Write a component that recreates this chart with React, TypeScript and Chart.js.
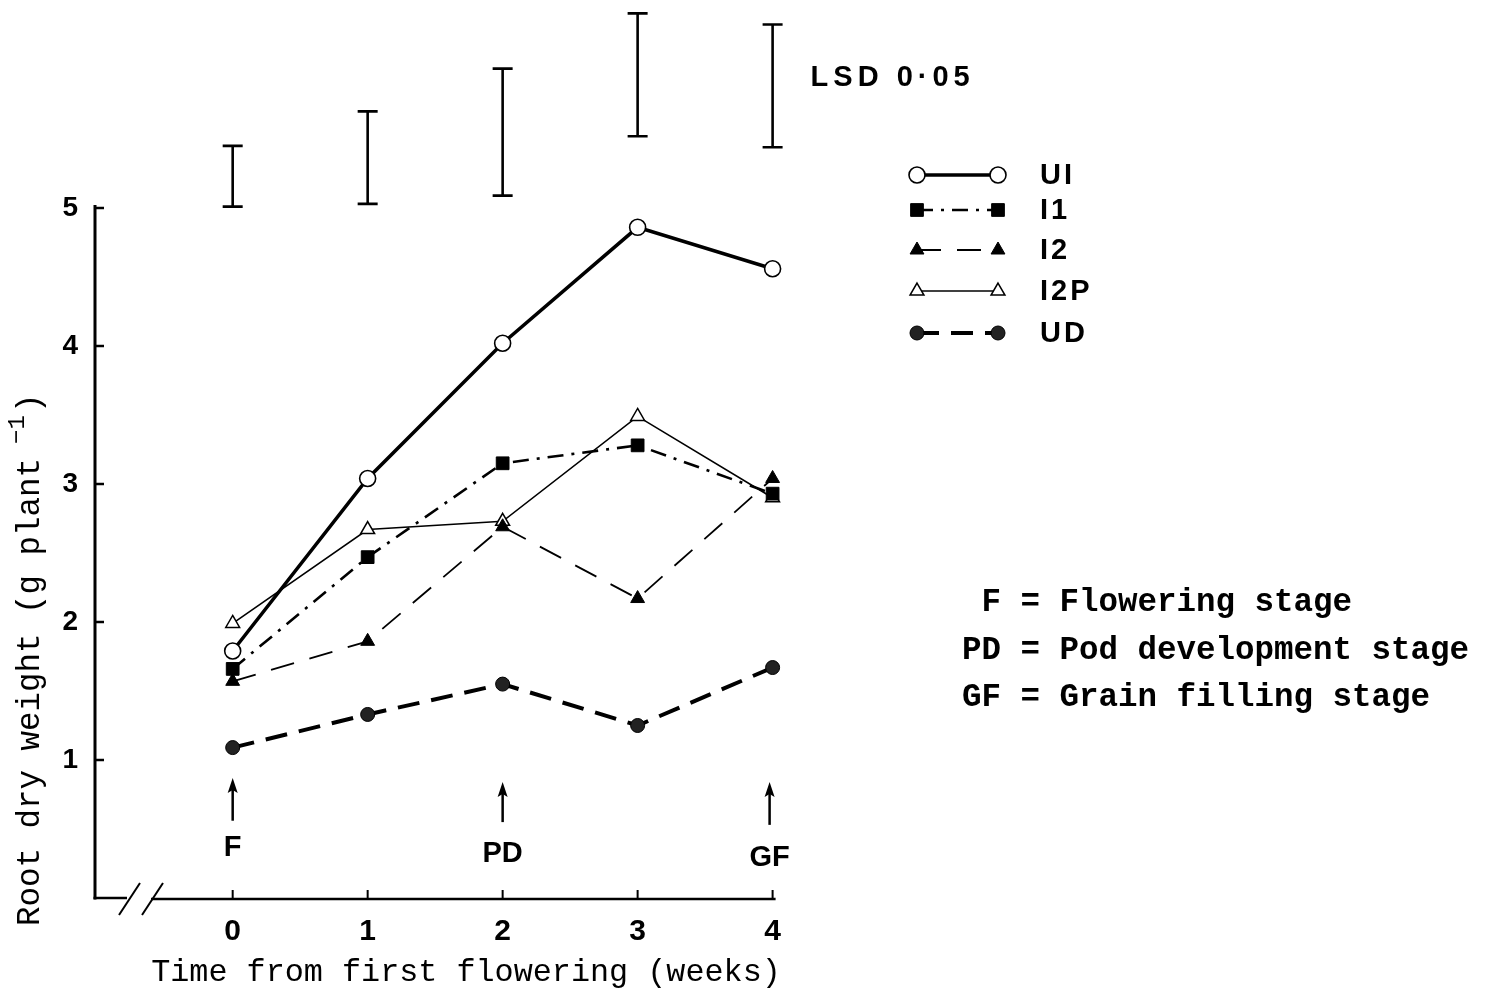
import React, { useEffect, useRef } from 'react';
import { Chart, registerables } from 'chart.js';

Chart.register(...registerables);

// ---- data ----
const weeks = [0, 1, 2, 3, 4];
const seriesNames = ['UI', 'I1', 'I2', 'I2P', 'UD'];
const seriesUI = [1.79, 3.04, 4.02, 4.86, 4.56];
const seriesI1 = [1.66, 2.47, 3.15, 3.28, 2.93];
const seriesI2 = [1.57, 1.86, 2.69, 2.17, 3.04];
const seriesI2P = [1.99, 2.67, 2.73, 3.49, 2.9];
const seriesUD = [1.09, 1.33, 1.55, 1.25, 1.67];
const lsdLow = [5.01, 5.03, 5.09, 5.52, 5.44];
const lsdHigh = [5.45, 5.7, 6.01, 6.41, 6.33];
const xTickValues = [0, 1, 2, 3, 4];
const yTickValues = [1, 2, 3, 4, 5];
const stageWeeks = [0, 2, 4];
const stageLabels = ['F', 'PD', 'GF'];
const stageNotes = [' F = Flowering stage', 'PD = Pod development stage', 'GF = Grain filling stage'];
const lsdLabel = 'LSD 0·05';
const xTitle = 'Time from first flowering (weeks)';
const yTitleMain = 'Root dry weight (g plant';
const yTitleSup = '−1';

const SANS = "'Liberation Sans', Arial, sans-serif";
const MONO = "'Liberation Mono', 'Courier New', monospace";

type Style = {
  width: number;
  dash: number[];
  shape: 'circle' | 'rect' | 'triangle';
  radius: number;
  fill: string;
  stroke: number;
};

const styles: Style[] = [
  { width: 3.5, dash: [], shape: 'circle', radius: 8, fill: '#fff', stroke: 1.6 },
  { width: 2.6, dash: [16, 8, 3, 8], shape: 'rect', radius: 9, fill: '#000', stroke: 1 },
  { width: 1.8, dash: [24, 16], shape: 'triangle', radius: 8, fill: '#000', stroke: 1 },
  { width: 1.6, dash: [], shape: 'triangle', radius: 8, fill: '#fff', stroke: 1.5 },
  { width: 4, dash: [22, 12], shape: 'circle', radius: 7, fill: '#222', stroke: 1 },
];

function drawMarker(ctx: CanvasRenderingContext2D, s: Style, x: number, y: number) {
  ctx.save();
  ctx.setLineDash([]);
  ctx.fillStyle = s.fill;
  ctx.strokeStyle = '#000';
  ctx.lineWidth = s.stroke;
  ctx.beginPath();
  if (s.shape === 'circle') {
    ctx.arc(x, y, s.radius, 0, Math.PI * 2);
  } else if (s.shape === 'rect') {
    const h = s.radius * Math.SQRT1_2;
    ctx.rect(x - h, y - h, 2 * h, 2 * h);
  } else {
    const r = s.radius;
    ctx.moveTo(x, y - r);
    ctx.lineTo(x + r * 0.866, y + r * 0.5);
    ctx.lineTo(x - r * 0.866, y + r * 0.5);
    ctx.closePath();
  }
  ctx.fill();
  ctx.stroke();
  ctx.restore();
}

const decor = {
  id: 'decor',
  afterDraw(chart: any) {
    const { ctx, chartArea } = chart;
    const xs = chart.scales.x;
    const ys = chart.scales.y;
    const left = chartArea.left;
    const bottom = chartArea.bottom;
    ctx.save();
    ctx.strokeStyle = '#000';
    ctx.fillStyle = '#000';
    ctx.lineCap = 'butt';

    // y axis
    ctx.lineWidth = 3;
    ctx.beginPath();
    ctx.moveTo(left, bottom + 1.5);
    ctx.lineTo(left, ys.getPixelForValue(5) - 3);
    ctx.stroke();
    ctx.lineWidth = 2.5;
    yTickValues.forEach((v) => {
      const py = ys.getPixelForValue(v);
      ctx.beginPath();
      ctx.moveTo(left, py);
      ctx.lineTo(left + 9, py);
      ctx.stroke();
    });

    // x axis with break
    ctx.lineWidth = 2.5;
    ctx.beginPath();
    ctx.moveTo(left - 1.5, bottom);
    ctx.lineTo(left + 32, bottom);
    ctx.stroke();
    ctx.beginPath();
    ctx.moveTo(left + 56, bottom + 1);
    ctx.lineTo(xs.getPixelForValue(4) + 3, bottom + 1);
    ctx.stroke();
    ctx.lineWidth = 2;
    [[left + 24, left + 45], [left + 47, left + 68]].forEach(([a, b]) => {
      ctx.beginPath();
      ctx.moveTo(a, bottom + 17);
      ctx.lineTo(b, bottom - 15);
      ctx.stroke();
    });
    ctx.lineWidth = 2;
    xTickValues.forEach((v) => {
      const px = xs.getPixelForValue(v);
      ctx.beginPath();
      ctx.moveTo(px, bottom + 1);
      ctx.lineTo(px, bottom - 8);
      ctx.stroke();
    });

    // LSD bars
    ctx.lineWidth = 2.6;
    weeks.forEach((w, i) => {
      const px = xs.getPixelForValue(w);
      const top = ys.getPixelForValue(lsdHigh[i]);
      const bot = ys.getPixelForValue(lsdLow[i]);
      ctx.beginPath();
      ctx.moveTo(px, top);
      ctx.lineTo(px, bot);
      ctx.moveTo(px - 10, top);
      ctx.lineTo(px + 10, top);
      ctx.moveTo(px - 10, bot);
      ctx.lineTo(px + 10, bot);
      ctx.stroke();
    });
    ctx.font = `bold 29px ${SANS}`;
    (ctx as any).letterSpacing = '5px';
    ctx.textAlign = 'left';
    ctx.textBaseline = 'middle';
    ctx.fillText(lsdLabel, xs.getPixelForValue(4) + 38, ys.getPixelForValue(5.94));
    (ctx as any).letterSpacing = '0px';

    // stage arrows and labels
    const tipV = [0.87, 0.84, 0.84];
    const baseV = [0.56, 0.55, 0.53];
    const labV = [0.36, 0.32, 0.29];
    ctx.font = `bold 29px ${SANS}`;
    ctx.textAlign = 'center';
    stageWeeks.forEach((w, i) => {
      const px = xs.getPixelForValue(w) + (i === 2 ? -3 : 0);
      const tip = ys.getPixelForValue(tipV[i]);
      const base = ys.getPixelForValue(baseV[i]);
      ctx.lineWidth = 2.5;
      ctx.beginPath();
      ctx.moveTo(px, base);
      ctx.lineTo(px, tip + 10);
      ctx.stroke();
      ctx.beginPath();
      ctx.moveTo(px, tip);
      ctx.lineTo(px + 5, tip + 15);
      ctx.lineTo(px, tip + 12);
      ctx.lineTo(px - 5, tip + 15);
      ctx.closePath();
      ctx.fill();
      ctx.fillText(stageLabels[i], px, ys.getPixelForValue(labV[i]));
    });

    // legend
    const legY = [175, 210, 250, 291, 333];
    const lx1 = 917;
    const lx2 = 998;
    styles.forEach((s, i) => {
      const yy = legY[i];
      ctx.save();
      ctx.lineWidth = s.width;
      ctx.setLineDash(s.dash);
      ctx.beginPath();
      ctx.moveTo(lx1, yy);
      ctx.lineTo(lx2, yy);
      ctx.stroke();
      ctx.restore();
      drawMarker(ctx, s, lx1, yy);
      drawMarker(ctx, s, lx2, yy);
      ctx.font = `bold 29px ${SANS}`;
      (ctx as any).letterSpacing = '3px';
      ctx.textAlign = 'left';
      ctx.textBaseline = 'middle';
      ctx.fillText(seriesNames[i], 1040, yy + 1);
      (ctx as any).letterSpacing = '0px';
    });

    // stage notes
    ctx.font = `bold 32.5px ${MONO}`;
    ctx.textAlign = 'left';
    ctx.textBaseline = 'middle';
    stageNotes.forEach((t, i) => {
      ctx.fillText(t, 962, 603 + i * 47.5);
    });

    // x title
    ctx.font = `31.8px ${MONO}`;
    ctx.textAlign = 'center';
    ctx.fillText(xTitle, 466, 973);

    // y title
    ctx.save();
    ctx.translate(30, 926);
    ctx.rotate(-Math.PI / 2);
    ctx.textAlign = 'left';
    ctx.font = `32.5px ${MONO}`;
    ctx.fillText(yTitleMain, 0, 0);
    const w = ctx.measureText(yTitleMain).width;
    ctx.font = `24px ${MONO}`;
    ctx.fillText(yTitleSup, w + 14, -12);
    const w2 = ctx.measureText(yTitleSup).width;
    ctx.font = `32.5px ${MONO}`;
    ctx.fillText(')', w + 14 + w2 + 2, 0);
    ctx.restore();

    ctx.restore();
  },
};

export default function App() {
  const ref = useRef<HTMLCanvasElement>(null);
  useEffect(() => {
    if (!ref.current) return;
    const all = [seriesUI, seriesI1, seriesI2, seriesI2P, seriesUD];
    const datasets = all.map((vals, i) => {
      const s = styles[i];
      return {
        label: seriesNames[i],
        data: weeks.map((w, j) => ({ x: w, y: vals[j] })),
        borderColor: '#000',
        borderWidth: s.width,
        borderDash: s.dash,
        pointStyle: s.shape,
        pointRadius: s.radius,
        pointBackgroundColor: s.fill,
        pointBorderColor: '#000',
        pointBorderWidth: s.stroke,
        tension: 0,
        fill: false,
        clip: false,
      };
    });
    const chart = new Chart(ref.current, {
      type: 'line',
      data: { datasets },
      options: {
        responsive: false,
        animation: false,
        layout: { autoPadding: false, padding: { left: 0, top: 1, right: 1486 - 778, bottom: 0 } },
        plugins: { legend: { display: false }, tooltip: { enabled: false } },
        scales: {
          x: {
            type: 'linear',
            min: -1.02,
            max: 4.04,
            grid: { display: false, drawTicks: false },
            border: { display: false },
            afterBuildTicks: (s: any) => {
              s.ticks = xTickValues.map((v) => ({ value: v }));
            },
            afterFit: (s: any) => {
              s.height = 93;
              s.paddingLeft = 0;
              s.paddingRight = 0;
              s.paddingTop = 0;
              s.paddingBottom = 0;
            },
            ticks: {
              color: '#000',
              autoSkip: false,
              maxRotation: 0,
              padding: 16,
              font: { family: SANS, weight: 'bold', size: 30 },
            },
          },
          y: {
            type: 'linear',
            min: 0,
            max: 6.5,
            grid: { display: false, drawTicks: false },
            border: { display: false },
            afterBuildTicks: (s: any) => {
              s.ticks = yTickValues.map((v) => ({ value: v }));
            },
            afterFit: (s: any) => {
              s.width = 95;
              s.paddingLeft = 0;
              s.paddingRight = 0;
              s.paddingTop = 0;
              s.paddingBottom = 0;
            },
            ticks: {
              color: '#000',
              padding: 17,
              font: { family: SANS, weight: 'bold', size: 28 },
            },
          },
        },
      },
      plugins: [decor],
    } as any);
    return () => chart.destroy();
  }, []);
  return (
    <div style={{ position: 'absolute', left: 0, top: 0, width: 1486, height: 991, background: '#fff' }}>
      <canvas ref={ref} width={1486} height={991} style={{ display: 'block' }} />
    </div>
  );
}
